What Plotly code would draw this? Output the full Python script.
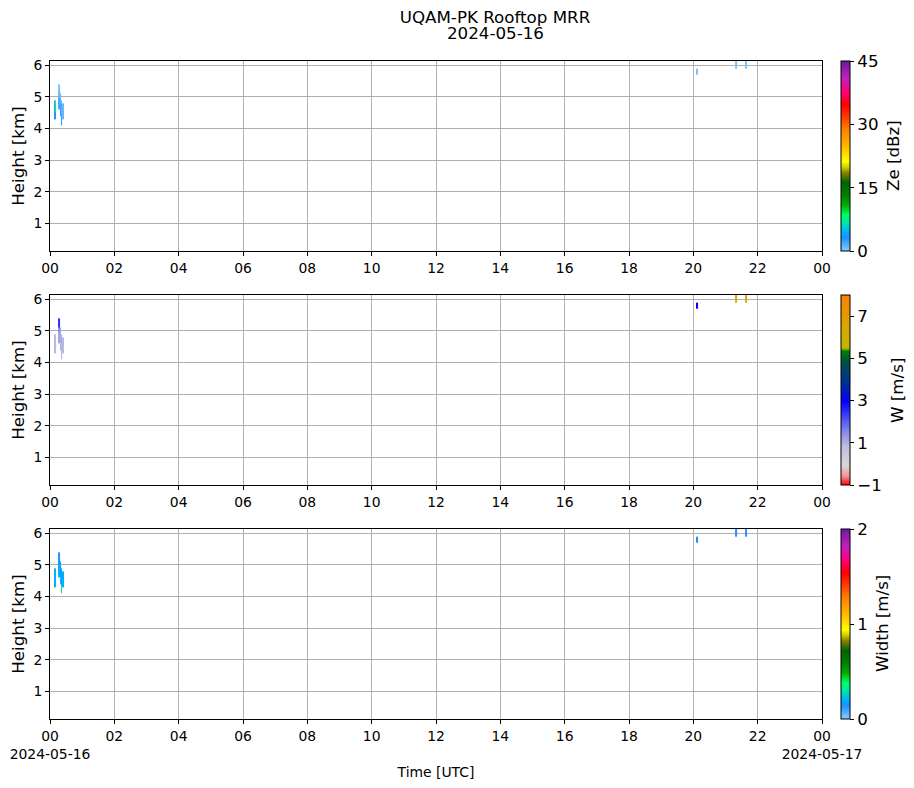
import pandas as pd
import plotly.graph_objects as go
from plotly.subplots import make_subplots

day = pd.Timestamp("2024-05-16")
N = None

# ---- early echo (00:07 - 00:26 UTC) ----
# range-gate edges (km) and time-bin edges (minutes after 00 UTC)
gates_early = [4.1, 4.2, 4.3, 4.4, 4.5, 4.6, 4.7, 4.8, 4.9, 5.0, 5.1, 5.2, 5.3, 5.4]
minutes_early = [7.5, 9.5, 11.0, 15.5, 18.0, 20.5, 23.0, 26.0]

# rows = gates (bottom -> top), columns = time bins
ze_early = [
    [N, N, N, N, N, 4, N],
    [N, N, N, N, N, 4, N],
    [3, 3, N, N, N, 3, 1],
    [3, 3, N, N, 3, 1, 1],
    [4, 8, N, N, 3, 1, 1],
    [4, 8, N, 2, 2, 2, 1],
    [3, 8, N, 2, 2, 2, 1],
    [2, 8, N, 2, 1, 1, N],
    [N, N, N, 2, 1, N, N],
    [N, N, N, 1, 1, N, N],
    [N, N, N, 1, N, N, N],
    [N, N, N, 0.5, N, N, N],
    [N, N, N, 0.5, N, N, N],
]
w_early = [
    [N, N, N, N, N, 1.0, N],
    [N, N, N, N, N, 1.0, N],
    [0.9, 0.9, N, N, N, 1.0, 0.9],
    [0.9, 0.9, N, N, 1.1, 0.9, 0.9],
    [0.9, 0.9, N, N, 1.1, 0.9, 0.9],
    [0.9, 0.9, N, 1.2, 1.0, 1.0, 0.9],
    [0.9, 0.9, N, 1.2, 1.0, 1.0, 0.9],
    [0.9, 0.9, N, 1.2, 1.0, 1.0, N],
    [N, N, N, 1.3, 1.0, N, N],
    [N, N, N, 1.5, 1.1, N, N],
    [N, N, N, 2.5, N, N, N],
    [N, N, N, 2.5, N, N, N],
    [N, N, N, 2.5, N, N, N],
]
sw_early = [
    [N, N, N, N, N, 0.28, N],
    [N, N, N, N, N, 0.28, N],
    [0.2, 0.2, N, N, N, 0.25, 0.2],
    [0.2, 0.2, N, N, 0.2, 0.2, 0.2],
    [0.2, 0.2, N, N, 0.2, 0.2, 0.2],
    [0.2, 0.2, N, 0.2, 0.2, 0.2, 0.2],
    [0.2, 0.2, N, 0.2, 0.18, 0.18, 0.2],
    [0.2, 0.2, N, 0.2, 0.18, 0.18, N],
    [N, N, N, 0.2, 0.18, N, N],
    [N, N, N, 0.15, 0.18, N, N],
    [N, N, N, 0.14, N, N, N],
    [N, N, N, 0.14, N, N, N],
    [N, N, N, 0.14, N, N, N],
]

# ---- late echoes near the top gate (20:05, 21:18, 21:36 UTC) ----
gates_late = [5.7, 5.8, 5.9, 6.0, 6.15]
minutes_late = [1205, 1208, 1277.5, 1281, 1296, 1299.5]
ze_late = [
    [0.5, N, N, N, N],
    [0.5, N, N, N, N],
    [N, N, 0.5, N, 0.5],
    [N, N, 0.5, N, 0.5],
]
w_late = [
    [3.0, N, N, N, N],
    [3.0, N, N, N, N],
    [N, N, 6.3, N, 6.3],
    [N, N, 6.3, N, 6.3],
]
sw_late = [
    [0.14, N, N, N, N],
    [0.14, N, N, N, N],
    [N, N, 0.14, N, 0.14],
    [N, N, 0.14, N, 0.14],
]

hour_labels = ["00", "02", "04", "06", "08", "10", "12", "14", "16", "18", "20", "22", "00"]
bottom_labels = ["00<br>2024-05-16", "02", "04", "06", "08", "10", "12", "14", "16",
                 "18", "20", "22", "00<br>2024-05-17"]

ze_scale = [
    [0.0, "#87cefa"], [0.07, "#1e90ff"], [0.10, "#00b0ff"], [0.15, "#00e8a0"],
    [0.19, "#00ff60"], [0.24, "#00b000"], [0.29, "#008000"], [0.36, "#006400"],
    [0.41, "#808000"], [0.44, "#cccc00"], [0.47, "#ffff00"], [0.54, "#ffc000"],
    [0.64, "#ff8000"], [0.70, "#ff4000"], [0.77, "#ff0000"], [0.84, "#ff0080"],
    [0.91, "#c020c0"], [1.0, "#6a1aa0"],
]
w_scale = [
    [0.0, "#ff0000"], [0.045, "#f09090"], [0.10, "#d8d8d8"], [0.20, "#c0c0e0"],
    [0.29, "#8080f0"], [0.44, "#0000ff"], [0.52, "#0028a0"], [0.59, "#004070"],
    [0.65, "#005040"], [0.705, "#008000"], [0.717, "#a0b000"], [0.73, "#c8b400"],
    [0.82, "#d4aa00"], [1.0, "#ff8000"],
]


def to_time(minutes):
    t = day + pd.to_timedelta(minutes, unit="min")
    return list(t.strftime("%Y-%m-%d %H:%M:%S"))


# page has an 8px body margin, so the figure is 8px smaller than the window
W, H = 906, 780
L, R, T, B = 42, 92, 53, 69
PW, PH = W - L - R, H - T - B

fig = make_subplots(rows=3, cols=1, vertical_spacing=44 / PH)

panels = [
    (ze_early, ze_late, "coloraxis"),
    (w_early, w_late, "coloraxis2"),
    (sw_early, sw_late, "coloraxis3"),
]
for row, (z1, z2, cax) in enumerate(panels, start=1):
    fig.add_trace(go.Heatmap(x=to_time(minutes_early), y=gates_early, z=z1,
                             coloraxis=cax, hoverongaps=False), row=row, col=1)
    fig.add_trace(go.Heatmap(x=to_time(minutes_late), y=gates_late, z=z2,
                             coloraxis=cax, hoverongaps=False), row=row, col=1)

font = "DejaVu Sans"
big = 16.7
small = 13.9
tick_times = list(pd.date_range(day, periods=13, freq="2h").strftime("%Y-%m-%d %H:%M"))
frac = 190 / PH
centers = [1 - frac / 2, 0.5, frac / 2]


def px_x(page_x):
    return (page_x - 8 - L) / PW


def cbar(vals, texts, yc):
    return dict(
        x=px_x(841), xanchor="left", xpad=0, y=yc, yanchor="middle",
        len=frac, lenmode="fraction", thickness=9, thicknessmode="pixels", ypad=0,
        outlinewidth=1, outlinecolor="black",
        ticks="outside", ticklen=4, tickcolor="black",
        tickvals=vals, ticktext=texts, tickfont=dict(size=big, family=font, color="black"),
    )


fig.update_layout(
    width=W, height=H,
    margin=dict(l=L, r=R, t=T, b=B, autoexpand=False),
    paper_bgcolor="white", plot_bgcolor="white",
    font=dict(family=font, size=small, color="black"),
    showlegend=False,
    title=dict(text="UQAM-PK Rooftop MRR", x=487 / W, xanchor="center",
               xref="container", y=1 - 9 / H, yanchor="middle", yref="container",
               font=dict(size=big, family=font, color="black")),
    coloraxis=dict(colorscale=ze_scale, cmin=0, cmax=45,
                   colorbar=cbar([0, 15, 30, 45], ["0", "15", "30", "45"], centers[0])),
    coloraxis2=dict(colorscale=w_scale, cmin=-1, cmax=8,
                    colorbar=cbar([-1, 1, 3, 5, 7], ["\u22121", "1", "3", "5", "7"], centers[1])),
    coloraxis3=dict(colorscale=ze_scale, cmin=0, cmax=2,
                    colorbar=cbar([0, 1, 2], ["0", "1", "2"], centers[2])),
)

fig.add_annotation(text="2024-05-16", x=px_x(495), y=1 + (T - 25) / PH, xref="paper", yref="paper",
                   xanchor="center", yanchor="middle", showarrow=False,
                   font=dict(size=big, family=font, color="black"))

for label, page_x, yc in [("Ze [dBz]", 893, centers[0]), ("W [m/s]", 897, centers[1]),
                          ("Width [m/s]", 882, centers[2])]:
    fig.add_annotation(text=label, x=px_x(page_x), y=yc, xref="paper", yref="paper",
                       xanchor="center", yanchor="middle", textangle=-90, showarrow=False,
                       font=dict(size=big, family=font, color="black"))

for row in (1, 2, 3):
    fig.update_xaxes(
        type="date", range=["2024-05-16", "2024-05-17"],
        tickvals=tick_times, ticktext=bottom_labels if row == 3 else hour_labels,
        showline=True, mirror=True, linecolor="black", linewidth=1,
        ticks="outside", ticklen=4, tickcolor="black",
        showgrid=True, gridcolor="#b0b0b0", gridwidth=1, zeroline=False,
        tickfont=dict(size=small, family=font, color="black"), automargin=False,
        row=row, col=1,
    )
    fig.update_yaxes(
        range=[0.12, 6.14], tickvals=[1, 2, 3, 4, 5, 6],
        showline=True, mirror=True, linecolor="black", linewidth=1,
        ticks="outside", ticklen=4, tickcolor="black",
        showgrid=True, gridcolor="#b0b0b0", gridwidth=1, zeroline=False,
        tickfont=dict(size=small, family=font, color="black"), automargin=False,
        title=dict(text="Height [km]", font=dict(size=big, family=font, color="black"), standoff=8),
        row=row, col=1,
    )

fig.update_xaxes(title=dict(text="Time [UTC]", font=dict(size=small, family=font, color="black"),
                            standoff=6), row=3, col=1)

fig.write_html("out.html")
